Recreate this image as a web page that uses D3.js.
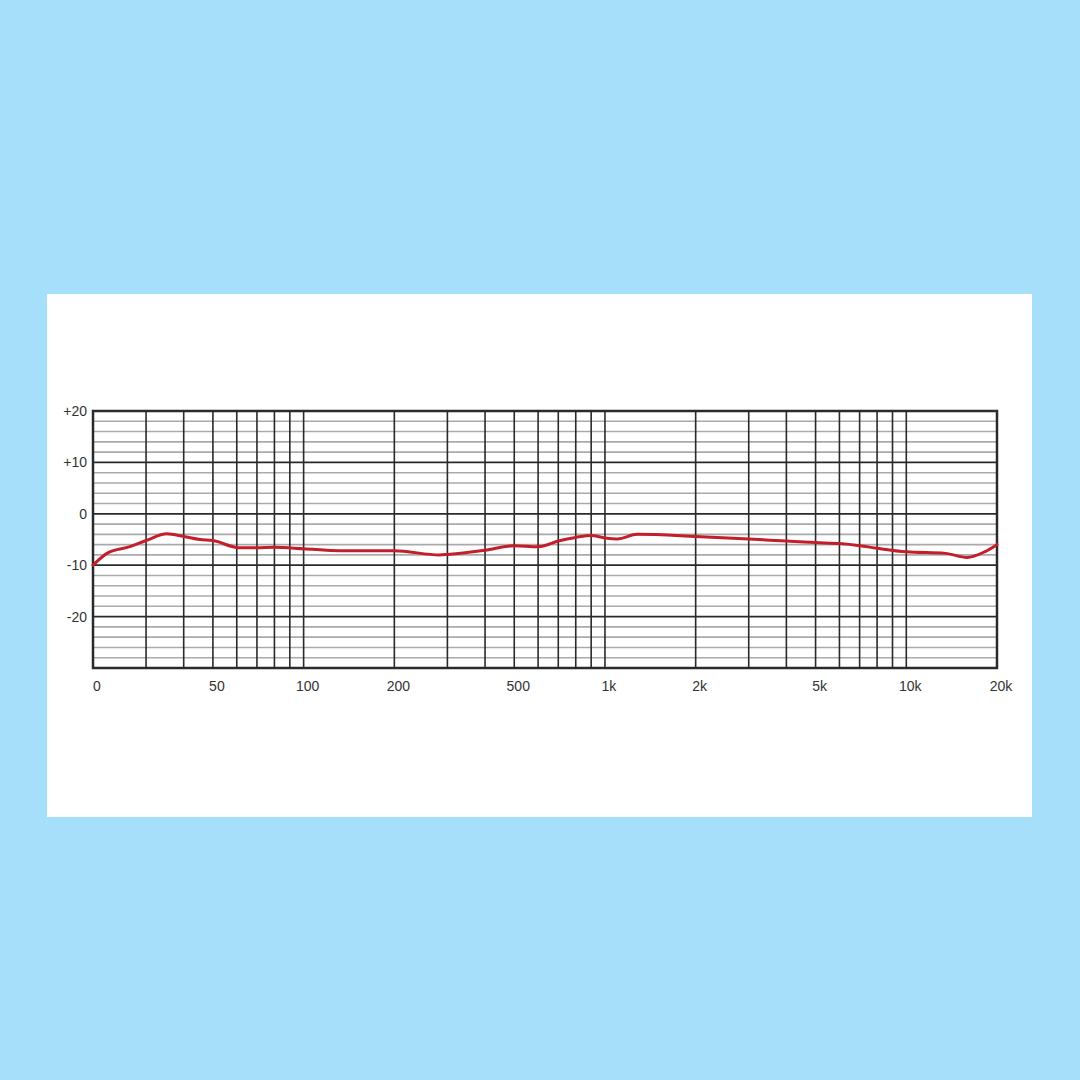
<!DOCTYPE html>
<html>
<head>
<meta charset="utf-8">
<script src="https://cdn.jsdelivr.net/npm/d3@7"></script>
<style>
  html, body { margin: 0; padding: 0; background: #a6dffa; }
  svg { display: block; }
</style>
</head>
<body>
<div id="chart"></div>
<script>
// response curve, frequency (Hz) and level (dB)
const freqs = [20, 22.4, 26.5, 30, 35.2, 40, 45.3, 50, 61, 70, 80, 100, 132, 200, 283, 300, 400, 500, 600, 700, 800, 900, 1000, 1100, 1280, 2000, 3000, 4000, 5000, 6000, 7000, 8000, 10000, 13500, 15900, 18200, 20000];
const levels = [-10, -7.6, -6.4, -5.2, -3.9, -4.4, -5.0, -5.2, -6.6, -6.6, -6.5, -6.8, -7.2, -7.2, -8.0, -7.9, -7.1, -6.2, -6.4, -5.3, -4.6, -4.2, -4.7, -4.9, -4.0, -4.4, -4.9, -5.3, -5.6, -5.8, -6.2, -6.7, -7.4, -7.7, -8.5, -7.4, -6.0];

const xGrid = [20, 30, 40, 50, 60, 70, 80, 90, 100, 200, 300, 400, 500, 600, 700, 800, 900, 1000, 2000, 3000, 4000, 5000, 6000, 7000, 8000, 9000, 10000, 20000];
const xTicks = [20, 50, 100, 200, 500, 1000, 2000, 5000, 10000, 20000];
const xTickLabels = ['0', '50', '100', '200', '500', '1k', '2k', '5k', '10k', '20k'];
const yMajor = [20, 10, 0, -10, -20, -30];
const yTickLabels = ['+20', '+10', '0', '-10', '-20', ''];
const yMinor = d3.range(-28, 20, 2).filter(v => v % 10 !== 0);

const width = 1080, height = 1080;
const panel = { x: 47, y: 294, w: 985, h: 523 };
const plot = { left: 93, top: 411, right: 997, bottom: 668 };

const svg = d3.select('#chart').append('svg')
  .attr('width', width)
  .attr('height', height);

svg.append('rect')
  .attr('width', width).attr('height', height)
  .attr('fill', '#a6dffa');

svg.append('rect')
  .attr('x', panel.x).attr('y', panel.y)
  .attr('width', panel.w).attr('height', panel.h)
  .attr('fill', '#ffffff');

const x = d3.scaleLog()
  .domain([20, 20000])
  .range([plot.left, plot.right]);

const y = d3.scaleLinear()
  .domain([-30, 20])
  .range([plot.bottom, plot.top]);

// minor horizontal lines
svg.append('g').selectAll('line')
  .data(yMinor)
  .join('line')
  .attr('x1', plot.left).attr('x2', plot.right)
  .attr('y1', d => y(d)).attr('y2', d => y(d))
  .attr('stroke', '#aaaaaa')
  .attr('stroke-width', 1.6);

// major horizontal lines
svg.append('g').selectAll('line')
  .data(yMajor)
  .join('line')
  .attr('x1', plot.left).attr('x2', plot.right)
  .attr('y1', d => y(d)).attr('y2', d => y(d))
  .attr('stroke', '#2a2a2a')
  .attr('stroke-width', 1.8);

// vertical grid
svg.append('g').selectAll('line')
  .data(xGrid)
  .join('line')
  .attr('x1', d => x(d)).attr('x2', d => x(d))
  .attr('y1', plot.top).attr('y2', plot.bottom)
  .attr('stroke', '#2a2a2a')
  .attr('stroke-width', 1.6);

// frame
svg.append('rect')
  .attr('x', plot.left).attr('y', plot.top)
  .attr('width', plot.right - plot.left)
  .attr('height', plot.bottom - plot.top)
  .attr('fill', 'none')
  .attr('stroke', '#2a2a2a')
  .attr('stroke-width', 2.5);

// y labels
svg.append('g').selectAll('text')
  .data(yMajor)
  .join('text')
  .attr('x', 87)
  .attr('y', d => y(d) + 5)
  .attr('text-anchor', 'end')
  .attr('font-family', 'Liberation Sans, Arial, sans-serif')
  .attr('font-size', 14)
  .attr('fill', '#333')
  .text((d, i) => yTickLabels[i]);

// x labels
svg.append('g').selectAll('text')
  .data(xTicks)
  .join('text')
  .attr('x', d => x(d) + 4)
  .attr('y', 691)
  .attr('text-anchor', 'middle')
  .attr('font-family', 'Liberation Sans, Arial, sans-serif')
  .attr('font-size', 14)
  .attr('fill', '#333')
  .text((d, i) => xTickLabels[i]);

// response line
const line = d3.line()
  .x((d, i) => x(freqs[i]))
  .y(d => y(d))
  .curve(d3.curveMonotoneX);

svg.append('path')
  .datum(levels)
  .attr('d', line)
  .attr('fill', 'none')
  .attr('stroke', '#c41e2a')
  .attr('stroke-width', 3)
  .attr('stroke-linejoin', 'round')
  .attr('stroke-linecap', 'round');
</script>
</body>
</html>
